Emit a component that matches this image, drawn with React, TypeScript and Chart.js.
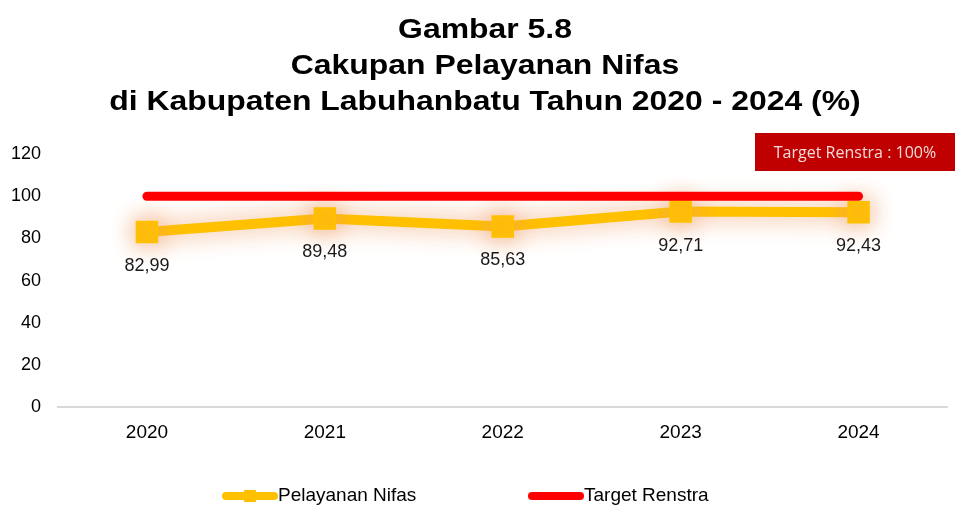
import React, { useEffect, useRef } from "react";
import { Chart, registerables } from "chart.js";

Chart.register(...registerables);

const categories = ["2020", "2021", "2022", "2023", "2024"];
const pelayananNifas = [82.99, 89.48, 85.63, 92.71, 92.43];
const targetRenstra = [100, 100, 100, 100, 100];
const yTicks = [0, 20, 40, 60, 80, 100, 120];
const titleLines = ["Gambar 5.8", "Cakupan Pelayanan Nifas", "di Kabupaten Labuhanbatu Tahun 2020 - 2024 (%)"];
const targetNote = "Target Renstra : 100%";
const seriesNames = ["Pelayanan Nifas", "Target Renstra"];

const YELLOW = "#FFC000";
const RED = "#FF0000";
const FONT = "'Liberation Sans', Arial, sans-serif";

const fmt = (v: number) => v.toFixed(2).replace(".", ",");

const titlePlugin = {
  id: "stretchedTitle",
  afterDraw(chart: any) {
    const ctx = chart.ctx;
    const cx = 485;
    const ys = [30, 66.5, 102];
    ctx.save();
    ctx.fillStyle = "#000";
    ctx.font = `bold 28px ${FONT}`;
    ctx.textAlign = "center";
    ctx.textBaseline = "middle";
    titleLines.forEach((line, i) => {
      ctx.save();
      ctx.translate(cx, ys[i]);
      ctx.scale(1.14, 1);
      ctx.fillText(line, 0, 0);
      ctx.restore();
    });
    ctx.restore();
  },
};

const glowPlugin = {
  id: "glow",
  beforeDatasetDraw(chart: any, args: any) {
    const ctx = chart.ctx;
    ctx.save();
    if (chart.data.datasets[args.index].label === seriesNames[0]) {
      ctx.shadowColor = "rgba(240, 160, 105, 0.95)";
      ctx.shadowBlur = 24;
    }
  },
  afterDatasetDraw(chart: any) {
    chart.ctx.restore();
  },
};

const labelsPlugin = {
  id: "valueLabels",
  afterDatasetsDraw(chart: any) {
    const ctx = chart.ctx;
    const idx = chart.data.datasets.findIndex((d: any) => d.label === seriesNames[0]);
    const meta = chart.getDatasetMeta(idx);
    ctx.save();
    ctx.font = `18px ${FONT}`;
    ctx.fillStyle = "#1a1a1a";
    ctx.textAlign = "center";
    ctx.textBaseline = "middle";
    meta.data.forEach((pt: any, i: number) => {
      ctx.fillText(fmt(pelayananNifas[i]), pt.x, pt.y + 34);
    });
    ctx.restore();
  },
};

const notePlugin = {
  id: "note",
  afterDraw(chart: any) {
    const ctx = chart.ctx;
    ctx.save();
    ctx.fillStyle = "#C00000";
    ctx.fillRect(755, 133, 200, 38);
    ctx.fillStyle = "#F2DCDB";
    ctx.font = `16px 'Open Sans', 'Noto Sans', sans-serif`;
    ctx.textAlign = "center";
    ctx.textBaseline = "middle";
    ctx.fillText(targetNote, 855, 153);
    ctx.restore();
  },
};

const legendPlugin = {
  id: "customLegend",
  afterDraw(chart: any) {
    const ctx = chart.ctx;
    const y = 496;
    ctx.save();
    ctx.lineCap = "round";
    ctx.strokeStyle = YELLOW;
    ctx.lineWidth = 8;
    ctx.beginPath();
    ctx.moveTo(226, y);
    ctx.lineTo(274, y);
    ctx.stroke();
    ctx.fillStyle = YELLOW;
    ctx.fillRect(244, y - 6, 12, 12);
    ctx.strokeStyle = RED;
    ctx.beginPath();
    ctx.moveTo(532, y);
    ctx.lineTo(580, y);
    ctx.stroke();
    ctx.fillStyle = "#000";
    ctx.font = `19px ${FONT}`;
    ctx.textAlign = "left";
    ctx.textBaseline = "middle";
    ctx.fillText(seriesNames[0], 278, y);
    ctx.fillText(seriesNames[1], 584, y);
    ctx.restore();
  },
};

export default function App() {
  const ref = useRef<HTMLCanvasElement>(null);
  useEffect(() => {
    document.body.style.margin = "0";
    const chart = new Chart(ref.current!, {
      type: "line",
      data: {
        labels: categories,
        datasets: [
          {
            label: seriesNames[1],
            data: targetRenstra,
            borderColor: RED,
            backgroundColor: RED,
            borderWidth: 9,
            borderCapStyle: "round",
            pointRadius: 0,
            order: 0,
          },
          {
            label: seriesNames[0],
            data: pelayananNifas,
            borderColor: YELLOW,
            backgroundColor: YELLOW,
            borderWidth: 10,
            pointStyle: "rect",
            pointRadius: 14.5,
            pointBorderWidth: 2,
            pointBorderColor: YELLOW,
            pointBackgroundColor: YELLOW,
            tension: 0,
            order: 1,
          },
        ],
      },
      options: {
        responsive: false,
        animation: false,
        layout: { padding: { left: 11, right: 14, bottom: 65, top: 154 } },
        plugins: {
          legend: { display: false },
          tooltip: { enabled: false },
          title: { display: false },
        },
        scales: {
          x: {
            offset: true,
            grid: { display: false, drawTicks: true, tickLength: 14 },
            border: { display: true, color: "#d9d9d9", width: 2 },
            ticks: { color: "#000", font: { family: FONT, size: 19 }, padding: 0 },
          },
          y: {
            min: 0,
            max: 120,
            afterBuildTicks: (axis: any) => {
              axis.ticks = yTicks.map((v) => ({ value: v }));
            },
            afterFit: (axis: any) => {
              axis.width = 47;
            },
            grid: { display: false, drawTicks: false },
            border: { display: false },
            ticks: { color: "#000", font: { family: FONT, size: 18 }, padding: 17 },
          },
        },
      },
      plugins: [glowPlugin, labelsPlugin, notePlugin, legendPlugin, titlePlugin],
    } as any);
    return () => chart.destroy();
  }, []);
  return <canvas ref={ref} width={964} height={509} />;
}
